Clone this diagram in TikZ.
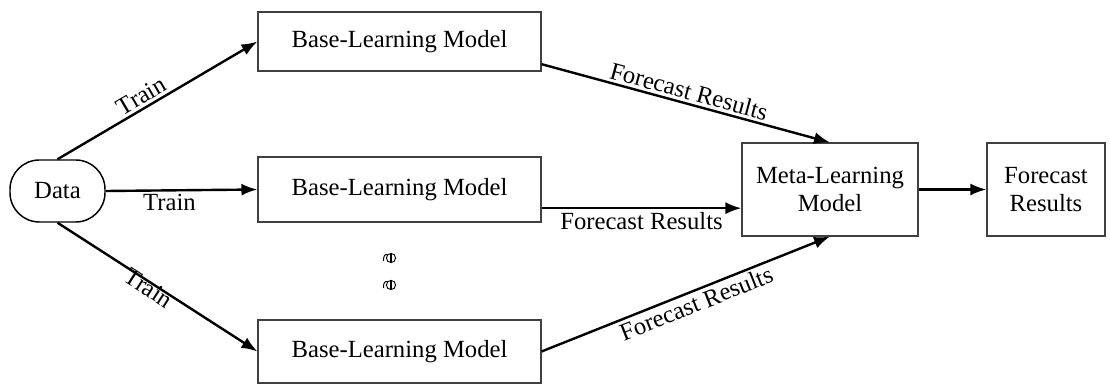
\documentclass[tikz,border=0pt]{standalone}
\usepackage{fontspec}
\setmainfont{Liberation Serif}
\usetikzlibrary{arrows.meta,calc}

\tikzset{
  boxnode/.style={draw=black!75, line width=0.8pt, fill=white, align=center,
    inner sep=0pt, font=\fontsize{18.5}{21}\selectfont},
  termnode/.style={draw=black, line width=1.1pt, rounded corners=22pt, align=center,
    inner sep=0pt, font=\fontsize{18.5}{21}\selectfont},
  flow/.style={line width=1.8pt, -{Latex[length=12pt,width=9pt]}},
  lbl/.style={font=\fontsize{18.5}{21}\selectfont, inner sep=2pt}
}

\begin{document}
\begin{tikzpicture}[x=0.75pt,y=-0.75pt]
  \useasboundingbox (0,0) rectangle (1110,388);

  % nodes
  \node[termnode, minimum width=71.25pt, minimum height=46.5pt] (data) at (57.5,191) {Data};
  \node[boxnode, minimum width=212.25pt, minimum height=44.25pt] (base1) at (399.5,41.5) {Base-Learning Model};
  \node[boxnode, minimum width=212.25pt, minimum height=48.75pt] (base2) at (399.5,189.5) {Base-Learning Model};
  \node[boxnode, minimum width=212.25pt, minimum height=47.25pt] (base3) at (399.5,351.5) {Base-Learning Model};
  \node[boxnode, minimum width=132pt, minimum height=69.75pt] (meta) at (830,189.5) {Meta-Learning\\Model};
  \node[boxnode, minimum width=88.5pt, minimum height=69.75pt] (out) at (1046,189.5) {Forecast\\Results};

  % training connectors
  \draw[flow] (data.north) -- node[lbl, sloped, above, pos=0.45] {Train} (base1.west);
  \draw[flow] (data.east) -- node[lbl, below, pos=0.42] {Train} (base2.west);
  \draw[flow] (data.south) -- node[lbl, sloped, below=-5pt, pos=0.47] {Train} (base3.west);

  % forecast connectors
  \draw[flow] ([yshift=-17pt]base1.east) -- node[lbl, sloped, above, pos=0.5] {Forecast Results} (meta.north);
  \draw[flow] ([yshift=-14pt]base2.east) -- node[lbl, below, pos=0.5] {Forecast Results} ([yshift=-14pt]meta.west);
  \draw[flow] (base3.east) -- node[lbl, sloped, below, pos=0.52] {Forecast Results} (meta.south);
  \draw[flow] (meta.east) -- (out.west);

  % vertical ellipsis marks between the base models
  \foreach \yy in {258,285} {
    \draw[line width=0.7pt] (391,\yy) circle [radius=4.6];
    \draw[line width=1.2pt] (391,\yy-4.6) -- (391,\yy+4.6);
    \draw[line width=0.7pt] (383.5,\yy+3) .. controls (383.5,\yy-2) and (384.5,\yy-4) .. (387.5,\yy-3.5);
  }
\end{tikzpicture}
\end{document}
